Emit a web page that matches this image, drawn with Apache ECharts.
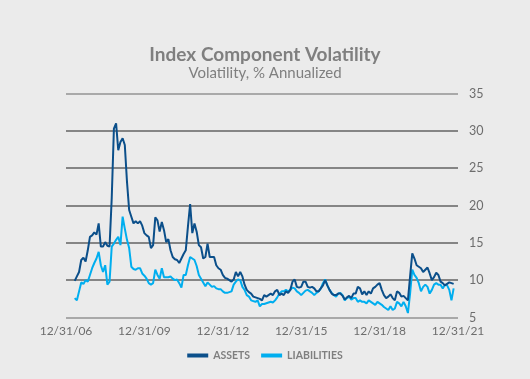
<!DOCTYPE html>
<html>
<head>
<meta charset="utf-8">
<script src="https://cdn.jsdelivr.net/npm/echarts@6/dist/echarts.min.js"></script>
<style>
html,body{margin:0;padding:0;background:#ebebeb;}
#c{width:530px;height:379px;}
</style>
</head>
<body>
<div id="c"></div>
<script>
// Monthly observations starting May 2007 (month index 4 after 12/31/06)
const firstMonthIndex = 4;
const assets = [
  9.9,10.5,11.1,12.7,13.0,12.5,14.0,15.8,16.0,16.4,16.1,17.6,14.5,14.5,15.1,14.6,14.5,21.0,30.3,31.0,
  27.4,28.5,29.0,28.1,23.2,19.4,18.5,17.6,17.9,17.6,17.9,17.3,16.3,16.0,15.8,14.3,14.7,18.4,18.0,16.5,
  17.8,16.7,15.1,15.5,14.0,13.1,12.8,12.7,12.3,12.9,13.5,14.0,17.2,20.2,16.3,17.6,16.5,14.7,14.4,12.9,
  13.1,14.9,13.1,13.1,13.1,12.0,11.6,11.4,10.7,10.3,10.2,10.0,9.8,10.1,11.1,10.5,11.1,10.5,9.4,8.7,
  8.4,8.2,7.8,7.7,7.6,7.5,7.3,8.0,7.8,8.0,8.2,8.0,8.5,8.7,8.0,8.2,8.0,8.5,8.3,8.7,
  9.8,10.1,9.1,9.0,9.1,9.8,9.8,9.1,9.0,9.1,8.9,8.5,8.5,8.9,9.3,10.0,9.3,8.7,8.2,8.0,
  8.0,8.2,8.2,7.9,7.4,7.7,7.9,7.6,8.2,8.2,9.1,8.9,8.1,8.5,8.0,8.5,8.2,8.9,9.1,9.4,
  9.6,8.7,8.0,7.6,7.8,8.1,7.6,7.3,8.5,8.3,7.8,7.9,7.6,7.3,10.5,13.6,12.9,12.0,11.8,11.6,
  11.1,11.4,11.7,10.9,10.0,10.4,11.0,10.7,9.8,9.6,9.3,9.5,9.7,9.6,9.5
];
const liabilities = [
  7.6,7.3,8.5,9.7,9.5,10.0,9.8,10.7,11.6,12.3,12.9,13.8,12.0,11.1,12.0,9.4,9.8,14.5,14.9,15.4,
  15.8,14.7,18.5,16.9,15.4,14.3,11.8,11.5,11.4,11.6,11.6,10.9,10.6,10.2,9.6,9.4,9.6,11.4,10.7,10.2,
  11.6,10.4,10.4,10.4,10.5,10.2,10.0,10.1,9.6,9.0,10.7,10.7,12.0,13.1,12.9,12.7,11.9,10.7,10.2,9.7,
  9.2,9.7,9.4,9.1,9.2,8.9,8.8,8.8,8.5,8.3,8.3,8.4,8.5,9.4,9.8,10.1,10.0,9.1,8.7,8.0,
  7.8,7.3,7.2,7.1,7.3,6.5,6.8,6.8,6.9,7.0,7.1,7.0,7.3,7.7,8.2,8.5,8.5,8.7,8.5,8.7,
  9.0,8.9,8.5,8.3,8.0,8.3,8.6,8.7,8.5,8.3,8.0,8.3,8.5,8.9,9.6,10.1,9.3,8.7,8.3,8.0,
  7.8,8.2,8.3,8.0,7.3,7.6,7.8,7.4,7.6,7.6,7.1,7.3,7.1,7.1,6.9,7.3,7.1,6.9,6.7,7.1,
  6.9,6.7,6.4,6.2,6.0,6.5,6.0,6.2,7.1,6.9,6.5,7.1,6.5,5.6,8.2,11.4,10.7,10.3,9.6,8.5,
  9.1,9.4,9.1,8.2,8.7,9.4,9.6,9.4,9.4,8.9,9.4,9.3,8.7,7.3,8.9
];
const xTickYears = [2007, 2010, 2013, 2016, 2019, 2022]; // year-ends 12/31/06 ... 12/31/21
const yTicks = [5, 10, 15, 20, 25, 30, 35];
const seriesNames = ['ASSETS', 'LIABILITIES'];

function toPoints(vals) {
  return vals.map((v, i) => [2007 + (firstMonthIndex + i) / 12, v]);
}

const chart = echarts.init(document.getElementById('c'), null, {renderer: 'canvas'});
chart.setOption({
  backgroundColor: '#ebebeb',
  animation: false,
  title: {
    text: 'Index Component Volatility',
    subtext: 'Volatility, % Annualized',
    left: 'center',
    top: 40,
    itemGap: 2,
    textStyle: {fontFamily: 'Lato', fontWeight: 'bold', fontSize: 19, color: '#7f7f7f'},
    subtextStyle: {fontFamily: 'Lato', fontSize: 15, color: '#7f7f7f'}
  },
  legend: {
    bottom: 13,
    left: 'center',
    itemWidth: 21,
    itemHeight: 4,
    itemGap: 11,
    icon: 'rect',
    data: seriesNames,
    textStyle: {fontFamily: 'Lato', fontWeight: 'bold', fontSize: 10.5, color: '#7f7f7f'}
  },
  grid: {left: 66, right: 72, top: 93.5, bottom: 61.5},
  xAxis: {
    type: 'value',
    min: xTickYears[0],
    max: xTickYears[xTickYears.length - 1],
    interval: 3,
    axisLine: {show: false},
    axisTick: {show: false},
    splitLine: {show: false},
    axisLabel: {
      margin: 8,
      fontFamily: 'Lato',
      fontSize: 12,
      color: '#6d6d6d',
      formatter: v => '12/31/' + String(v - 1).slice(2)
    }
  },
  yAxis: {
    type: 'value',
    position: 'right',
    min: yTicks[0],
    max: yTicks[yTicks.length - 1],
    interval: 5,
    axisLine: {show: false},
    axisTick: {show: false},
    axisLabel: {margin: 11, fontFamily: 'Lato', fontSize: 12.5, color: '#6d6d6d'},
    splitLine: {
      show: true,
      lineStyle: {width: 2, color: ['#a9a9a9', '#858585', '#858585', '#858585', '#858585', '#858585', '#a9a9a9']}
    }
  },
  series: [
    {
      name: seriesNames[0], type: 'line', data: toPoints(assets),
      symbol: 'none', lineStyle: {width: 2, color: '#0b4f8a'}, itemStyle: {color: '#0b4f8a'}, z: 3
    },
    {
      name: seriesNames[1], type: 'line', data: toPoints(liabilities),
      symbol: 'none', lineStyle: {width: 2, color: '#00aeef'}, itemStyle: {color: '#00aeef'}, z: 2
    }
  ]
});
</script>
</body>
</html>
